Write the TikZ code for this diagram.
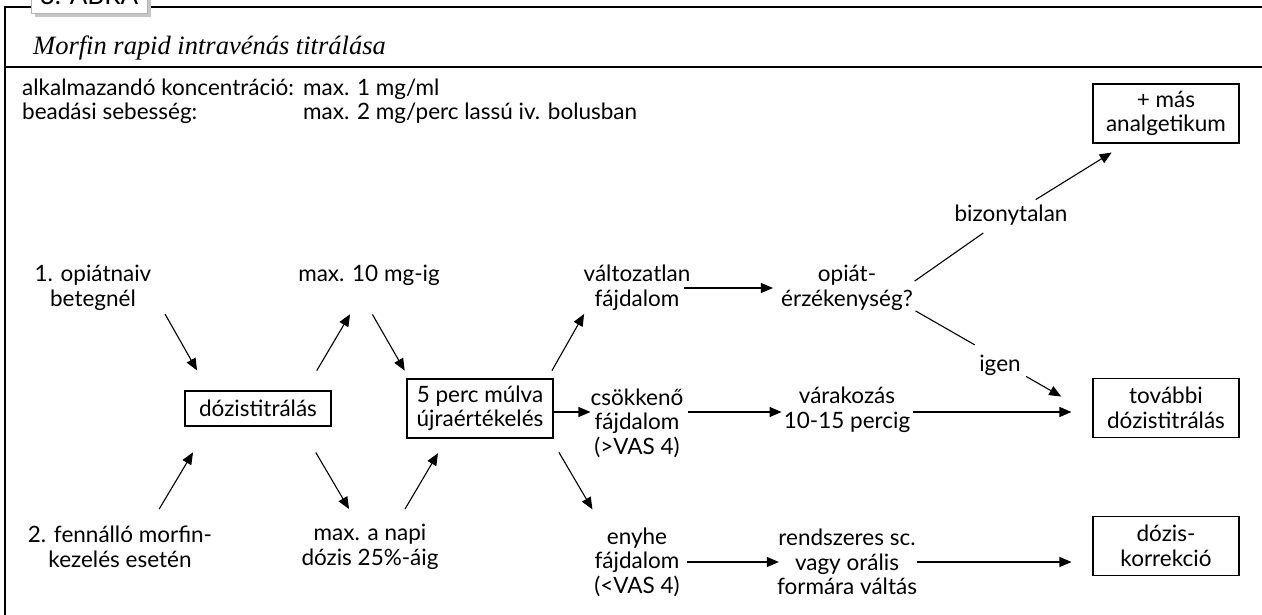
\documentclass[tikz,border=0pt]{standalone}
\usepackage{fontspec}
\setmainfont{Lato}
\newfontfamily\titlefont{Liberation Serif}
\usetikzlibrary{arrows.meta, positioning}

\begin{document}
\begin{tikzpicture}[x=1pt, y=-1pt,
    txt/.style={inner sep=0pt, align=center, font=\fontsize{22.5}{24.5}\selectfont},
    t1/.style={txt, minimum height=23pt},
    t2/.style={txt, minimum height=48pt},
    t3/.style={txt, minimum height=72pt},
    kbox/.style={txt, draw, line width=1.1pt, minimum width=146pt, minimum height=#1},
    kbox/.default=59pt,
    hdr/.style={anchor=base west, inner sep=0pt, font=\fontsize{22.5}{24.5}\selectfont},
    arr/.style={-{Triangle[length=12pt,width=10pt]}, line width=1.1pt},
    ln/.style={line width=1.1pt}
  ]
  \useasboundingbox (0,0) rectangle (1262,615);

  % keret es cimke
  \fill[gray!45] (35,-30) rectangle (151,17);
  \filldraw[fill=white, draw=gray!60] (31,-30) rectangle (147,13);
  \node[anchor=base, inner sep=0pt, font=\fontsize{26}{30}\selectfont] (abra) at (89,5) {3. ÁBRA};
  \draw[ln] (31,7) -- (5,7) -- (5,615);
  \draw[ln] (151,7) -- (1262,7);
  \draw[ln] (5,67) -- (1262,67);
  \node[anchor=base west, inner sep=0pt, font=\titlefont\itshape\fontsize{26.5}{30}\selectfont] (title) at (33,55) {Morfin rapid intravénás titrálása};

  \node[hdr] (konc) at (22,96) {alkalmazandó koncentráció:};
  \node[hdr] (koncv) at (303,96) {max. 1 mg/ml};
  \node[hdr] (seb) at (22,120) {beadási sebesség:};
  \node[hdr] (sebv) at (303,120) {max. 2 mg/perc lassú iv. bolusban};

  % bal oldal
  \node[t2, minimum width=124pt] (opnaiv) at (93,288) {1. opiátnaiv\\betegnél};
  \node[t2, minimum width=176pt] (morfin) at (120,547) {2. fennálló morfin-\\kezelés esetén};
  \node[kbox=35pt] (dozis) at (258,408.5) {dózistitrálás};
  \node[t1, minimum width=140pt] (max10) at (369,275) {max. 10 mg-ig};
  \node[t2, minimum width=136pt] (napi) at (370,547) {max. a napi\\dózis 25\%-áig};
  \node[kbox] (ujra) at (480,408.5) {5 perc múlva\\újraértékelés};

  % kozep
  \node[t2, minimum width=104pt] (valt) at (637,288) {változatlan\\fájdalom};
  \node[t3, minimum width=92pt] (csokk) at (637,423) {csökkenő\\fájdalom\\(>VAS 4)};
  \node[t3, minimum width=92pt] (enyhe) at (637,562) {enyhe\\fájdalom\\(<VAS 4)};
  \node[t2, minimum width=128pt] (opiat) at (847,288) {opiát-\\érzékenység?};
  \node[t2, minimum width=124pt] (varak) at (847,410) {várakozás\\10-15 percig};
  \node[t3, minimum width=130pt] (rendsz) at (847,562) {rendszeres sc.\\vagy orális\\formára váltás};

  % jobb oldal
  \node[t1, minimum width=136pt] (bizony) at (1011,215) {bizonytalan};
  \node[t1, minimum width=40pt] (igen) at (1000,365) {igen};
  \node[kbox] (mas) at (1166,113.5) {+ más\\analgetikum};
  \node[kbox] (tovabbi) at (1166,408) {további\\dózistitrálás};
  \node[kbox] (korr) at (1166,546) {dózis-\\korrekció};

  % nyilak
  \draw[arr, shorten <=20pt, shorten >=23pt] (opnaiv.-8) -- (dozis.160);
  \draw[arr, shorten <=16pt, shorten >=30pt] (morfin.38) -- (dozis.200);
  \draw[arr, shorten <=23pt, shorten >=32pt] (dozis.21) -- (max10.257);
  \draw[arr, shorten <=30pt, shorten >=16pt] (dozis.-23) -- (napi.118);
  \draw[arr, shorten <=32pt, shorten >=9pt] (max10.223) -- (ujra.157);
  \draw[arr, shorten <=16pt, shorten >=17pt] (napi.42) -- (ujra.222);
  \draw[arr, shorten <=9pt, shorten >=2pt] (ujra.24) -- (valt.205);
  \draw[arr] ([yshift=-3.5pt]ujra.east) coordinate (u) -- (csokk.west |- u);
  \draw[arr, shorten <=16pt, shorten >=19pt] (ujra.-23) -- (enyhe.134);
  \draw[arr, shorten <=-7pt, shorten >=8pt] (valt.east) -- (opiat.west);
  \draw[arr, shorten <=4pt, shorten >=2pt] (csokk.east |- u) -- (varak.west |- u);
  \draw[arr, shorten <=4pt, shorten >=-2pt] (enyhe.east) -- (rendsz.west);
  \draw[ln, shorten <=2pt, shorten >=11pt] (opiat.5) -- (bizony.212);
  \draw[arr, shorten <=7pt, shorten >=17pt] (bizony.32) -- (mas.217);
  \draw[ln, shorten <=3pt, shorten >=17pt] (opiat.-18) -- (igen.132);
  \draw[arr, shorten <=6pt, shorten >=36pt] (igen.-22) -- (tovabbi.185);
  \draw[arr, shorten <=3pt, shorten >=21pt] (varak.east |- u) -- (tovabbi.west |- u);
  \draw[arr, shorten >=21pt] (rendsz.east) -- (korr.west |- rendsz.east);
\end{tikzpicture}
\end{document}
